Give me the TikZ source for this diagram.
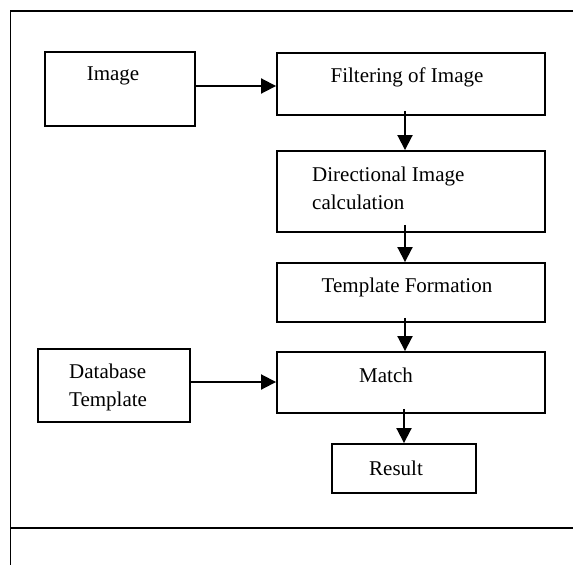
\documentclass[tikz,border=0pt]{standalone}
\usepackage{fontspec}
\setmainfont{Liberation Serif}
\usetikzlibrary{arrows.meta}
\begin{document}
\begin{tikzpicture}[x=1pt,y=-1pt,
  box/.style={draw, line width=1.9pt, rectangle, inner sep=0pt},
  txt/.style={font=\fontsize{21}{28}\selectfont, inner sep=0pt},
  arr/.style={line width=1.9pt, -{Triangle[length=15pt,width=15pt]}},
  framerule/.style={line width=1.9pt}]
\useasboundingbox (0,0) rectangle (573,565);
% frame
\coordinate (ftr) at (573,11);
\coordinate (ftl) at (10.5,11);
\coordinate (fbl) at (10.5,565);
\coordinate (fml) at (10.5,528);
\coordinate (fmr) at (573,528);
\draw[framerule] (ftr) -- (ftl) -- (fbl);
\draw[framerule] (fml) -- (fmr);
% boxes
\node[box, minimum width=150pt, minimum height=74pt] (img) at (120,89) {};
\node[box, minimum width=268pt, minimum height=62pt] (filt) at (411,84) {};
\node[box, minimum width=268pt, minimum height=81pt] (dir) at (411,191.5) {};
\node[box, minimum width=268pt, minimum height=59pt] (tmpl) at (411,292.5) {};
\node[box, minimum width=268pt, minimum height=61pt] (match) at (411,382.5) {};
\node[box, minimum width=152pt, minimum height=73pt] (db) at (114,385.5) {};
\node[box, minimum width=144pt, minimum height=49pt] (res) at (404,468.5) {};
% texts
\node[txt] (imgt) at (113,76) {Image};
\node[txt] (filtt) at (407,77) {Filtering of Image};
\node[txt, anchor=west, align=left] (dirt) at (312,188) {Directional Image\\calculation};
\node[txt] (tmplt) at (407,287) {Template Formation};
\node[txt] (matcht) at (386,375) {Match};
\node[txt, anchor=west, align=left] (dbt) at (69,387) {Database\\Template};
\node[txt] (rest) at (396,468) {Result};
% arrows
\draw[arr] (img.east |- 0,86) -- (filt.west |- 0,86);
\draw[arr] ([xshift=-6pt,yshift=5pt]filt.south) -- ([xshift=-6pt]dir.north);
\draw[arr] ([xshift=-6pt,yshift=8pt]dir.south) -- ([xshift=-6pt]tmpl.north);
\draw[arr] ([xshift=-6pt,yshift=5pt]tmpl.south) -- ([xshift=-6pt]match.north);
\draw[arr] (db.east |- 0,382) -- (match.west |- 0,382);
\draw[arr] ([yshift=5pt]match.south -| res.north) -- (res.north);
\end{tikzpicture}
\end{document}
